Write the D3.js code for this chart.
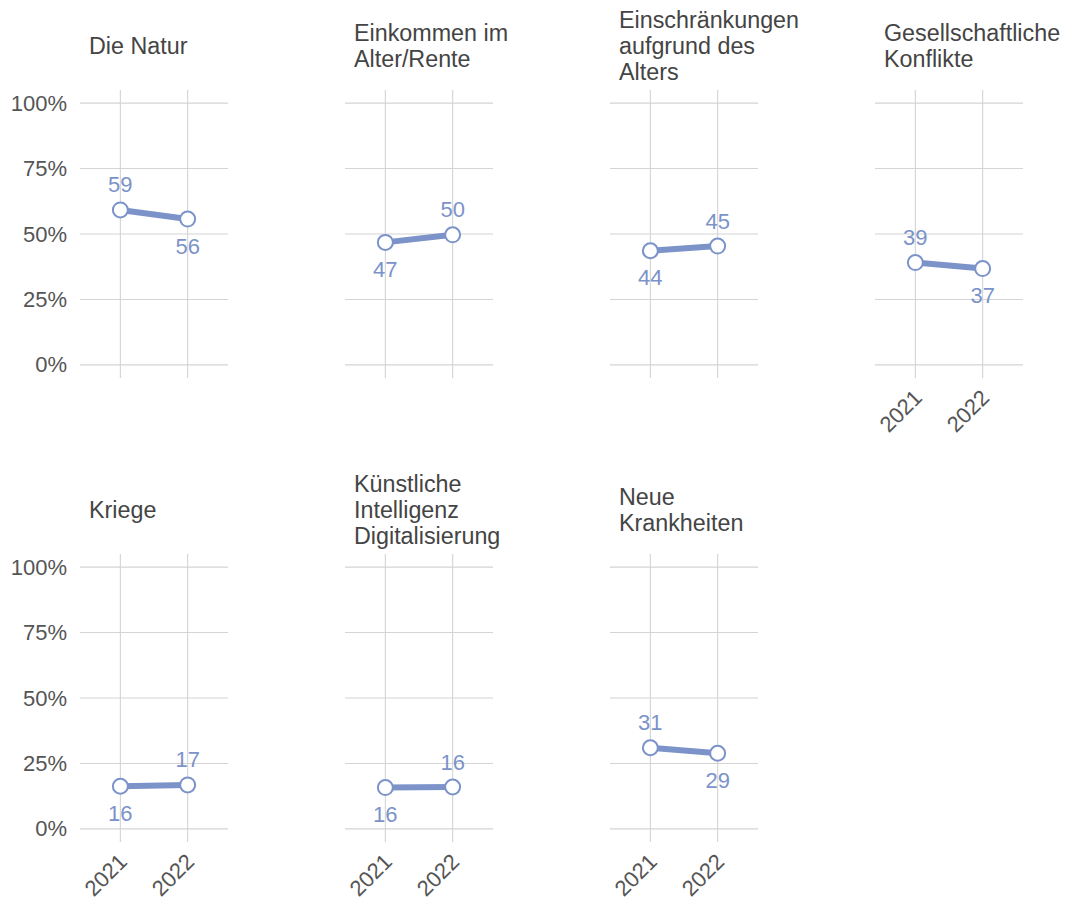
<!DOCTYPE html>
<html>
<head>
<meta charset="utf-8">
<script src="https://cdn.jsdelivr.net/npm/d3@7/dist/d3.min.js"></script>
<style>
  html, body { margin: 0; padding: 0; background: #fff; }
  svg { display: block; font-family: "Liberation Sans", Arial, Helvetica, sans-serif; }
</style>
</head>
<body>
<svg id="chart" width="1067" height="899"></svg>
<script>
const categories = [
  "Die Natur",
  "Einkommen im\nAlter/Rente",
  "Einschränkungen\naufgrund des\nAlters",
  "Gesellschaftliche\nKonflikte",
  "Kriege",
  "Künstliche\nIntelligenz\nDigitalisierung",
  "Neue\nKrankheiten"
];
const years = ["2021", "2022"];
const values2021 = [59.2, 46.8, 43.6, 39.1, 16.3, 15.8, 31.0];
const values2022 = [55.7, 49.7, 45.4, 36.8, 16.8, 16.0, 28.9];
const yTicks = [0, 25, 50, 75, 100];
const yTickLabels = ["0%", "25%", "50%", "75%", "100%"];

const svg = d3.select("#chart");
const lineColor = "#7b93c9";
const gridColor = "#d4d4d4";
const textColor = "#555555";

const nCols = 4;
const colLeft = [80, 345, 610, 875];
const rowTop = [90, 554];
const pw = 148, ph = 288;

const x = d3.scalePoint().domain(years).range([0, pw]).padding(0.6);
const y = d3.scaleLinear().domain([-5, 105]).range([ph, 0]);

categories.forEach((cat, i) => {
  const col = i % nCols, row = Math.floor(i / nCols);
  const g = svg.append("g").attr("transform", `translate(${colLeft[col]},${rowTop[row]})`);

  g.selectAll("line.h").data(yTicks).join("line")
    .attr("x1", 0).attr("x2", pw)
    .attr("y1", d => y(d)).attr("y2", d => y(d))
    .attr("stroke", gridColor).attr("stroke-width", 1.1);
  g.selectAll("line.v").data(years).join("line")
    .attr("x1", d => x(d)).attr("x2", d => x(d))
    .attr("y1", 0).attr("y2", ph)
    .attr("stroke", gridColor).attr("stroke-width", 1.1);

  if (col === 0) {
    g.selectAll("text.yl").data(yTicks).join("text")
      .attr("x", -13).attr("y", d => y(d))
      .attr("text-anchor", "end").attr("dominant-baseline", "central")
      .attr("font-size", 22).attr("fill", textColor)
      .text((d, k) => yTickLabels[k]);
  }

  const hasBelow = (i + nCols) < categories.length;
  if (!hasBelow) {
    g.selectAll("text.xl").data(years).join("text")
      .attr("transform", d => `translate(${x(d) + 8},${ph + 21}) rotate(-45)`)
      .attr("text-anchor", "end")
      .attr("font-size", 22).attr("fill", textColor)
      .text(d => d);
  }

  const lines = cat.split("\n");
  const lh = 26;
  const cy = -44;
  const t = g.append("text").attr("font-size", 23.3).attr("fill", "#444444")
    .attr("x", 9);
  lines.forEach((l, k) => {
    t.append("tspan").attr("x", 9)
      .attr("y", cy + (k - (lines.length - 1) / 2) * lh)
      .attr("dominant-baseline", "central")
      .text(l);
  });

  const vals = [values2021[i], values2022[i]];
  const pts = years.map((yr, k) => ({ yr, v: vals[k] }));

  g.append("path")
    .datum(pts)
    .attr("d", d3.line().x(d => x(d.yr)).y(d => y(d.v)))
    .attr("fill", "none").attr("stroke", lineColor).attr("stroke-width", 6);

  g.selectAll("circle").data(pts).join("circle")
    .attr("cx", d => x(d.yr)).attr("cy", d => y(d.v)).attr("r", 7.5)
    .attr("fill", "#fff").attr("stroke", lineColor).attr("stroke-width", 2);

  const firstLower = vals[0] <= vals[1];
  g.selectAll("text.vl").data(pts).join("text")
    .attr("x", d => x(d.yr))
    .attr("y", (d, k) => {
      const below = (k === 0) ? firstLower : !firstLower;
      return y(d.v) + (below ? 27 : -25);
    })
    .attr("text-anchor", "middle").attr("dominant-baseline", "central")
    .attr("font-size", 22).attr("fill", lineColor)
    .text(d => Math.round(d.v));
});
</script>
</body>
</html>
